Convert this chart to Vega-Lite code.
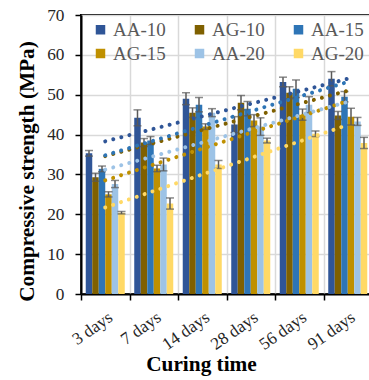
{
  "$schema": "https://vega.github.io/schema/vega-lite/v6.json",
  "width": 291,
  "height": 279,
  "autosize": {"type": "none"},
  "padding": {"left": 81, "top": 15, "right": 0, "bottom": 86},
  "background": "white",
  "config": {
    "font": "Liberation Serif",
    "view": {"stroke": "black", "strokeWidth": 2},
    "axisY": {
      "titleFont": "Liberation Serif", "titleFontSize": 21.3, "titleFontWeight": "bold", "titleColor": "black",
      "titleX": -48, "titleY": 156, "titleAngle": -90, "titleAlign": "center", "titleBaseline": "alphabetic",
      "labelFont": "Liberation Serif", "labelFontSize": 17.3, "labelColor": "#262626", "labelPadding": 11,
      "grid": true, "gridColor": "#D9D9D9", "gridWidth": 1.5,
      "domainColor": "black", "domainWidth": 2, "tickColor": "black", "tickWidth": 1.5, "tickSize": 6
    },
    "axisX": {
      "titleFont": "Liberation Serif", "titleFontSize": 21.3, "titleFontWeight": "bold", "titleColor": "black",
      "titleX": 120, "titleY": 76, "titleAlign": "center", "titleBaseline": "alphabetic",
      "labelAngle": -35, "labelAlign": "right", "labelBaseline": "top",
      "labelFont": "Liberation Serif", "labelFontSize": 17.3, "labelColor": "#262626", "labelPadding": 8,
      "tickBand": "extent", "grid": true, "gridColor": "#D9D9D9", "gridWidth": 1.5,
      "domainColor": "black", "domainWidth": 2, "tickColor": "black", "tickWidth": 1.5, "tickSize": 6
    }
  },
  "datasets": {
    "bars": [
      {"day": "3 days", "series": "AA-10", "value": 35.3, "err": 0.7},
      {"day": "3 days", "series": "AG-10", "value": 29.3, "err": 1.0},
      {"day": "3 days", "series": "AA-15", "value": 31.4, "err": 0.7},
      {"day": "3 days", "series": "AG-15", "value": 25.0, "err": 0.65},
      {"day": "3 days", "series": "AA-20", "value": 27.6, "err": 0.9},
      {"day": "3 days", "series": "AG-20", "value": 20.4, "err": 0.3},
      {"day": "7 days", "series": "AA-10", "value": 44.2, "err": 2.0},
      {"day": "7 days", "series": "AG-10", "value": 38.0, "err": 1.0},
      {"day": "7 days", "series": "AA-15", "value": 38.5, "err": 1.0},
      {"day": "7 days", "series": "AG-15", "value": 31.5, "err": 0.8},
      {"day": "7 days", "series": "AA-20", "value": 32.5, "err": 1.6},
      {"day": "7 days", "series": "AG-20", "value": 22.7, "err": 1.4},
      {"day": "14 days", "series": "AA-10", "value": 49.0, "err": 1.5},
      {"day": "14 days", "series": "AG-10", "value": 45.5, "err": 1.2},
      {"day": "14 days", "series": "AA-15", "value": 47.5, "err": 1.8},
      {"day": "14 days", "series": "AG-15", "value": 42.0, "err": 0.7},
      {"day": "14 days", "series": "AA-20", "value": 45.5, "err": 1.0},
      {"day": "14 days", "series": "AG-20", "value": 32.5, "err": 1.0},
      {"day": "28 days", "series": "AA-10", "value": 42.5, "err": 2.0},
      {"day": "28 days", "series": "AG-10", "value": 48.0, "err": 1.8},
      {"day": "28 days", "series": "AA-15", "value": 46.5, "err": 1.8},
      {"day": "28 days", "series": "AG-15", "value": 43.5, "err": 1.5},
      {"day": "28 days", "series": "AA-20", "value": 42.0, "err": 2.2},
      {"day": "28 days", "series": "AG-20", "value": 38.5, "err": 0.6},
      {"day": "56 days", "series": "AA-10", "value": 53.2, "err": 1.2},
      {"day": "56 days", "series": "AG-10", "value": 50.5, "err": 1.5},
      {"day": "56 days", "series": "AA-15", "value": 51.5, "err": 2.2},
      {"day": "56 days", "series": "AG-15", "value": 45.0, "err": 1.4},
      {"day": "56 days", "series": "AA-20", "value": 47.5, "err": 2.0},
      {"day": "56 days", "series": "AG-20", "value": 40.2, "err": 0.7},
      {"day": "91 days", "series": "AA-10", "value": 54.0, "err": 1.8},
      {"day": "91 days", "series": "AG-10", "value": 44.8, "err": 1.0},
      {"day": "91 days", "series": "AA-15", "value": 49.5, "err": 1.3},
      {"day": "91 days", "series": "AG-15", "value": 44.5, "err": 2.1},
      {"day": "91 days", "series": "AA-20", "value": 43.3, "err": 1.0},
      {"day": "91 days", "series": "AG-20", "value": 37.9, "err": 1.4}
    ],
    "trend": [
      {"day": "3 days", "series": "AA-10", "value": 38.3},
      {"day": "91 days", "series": "AA-10", "value": 54.0},
      {"day": "3 days", "series": "AG-10", "value": 34.6},
      {"day": "91 days", "series": "AG-10", "value": 51.0},
      {"day": "3 days", "series": "AA-15", "value": 34.8},
      {"day": "91 days", "series": "AA-15", "value": 53.2},
      {"day": "3 days", "series": "AG-15", "value": 28.5},
      {"day": "91 days", "series": "AG-15", "value": 48.4},
      {"day": "3 days", "series": "AA-20", "value": 31.2},
      {"day": "91 days", "series": "AA-20", "value": 48.2},
      {"day": "3 days", "series": "AG-20", "value": 21.7},
      {"day": "91 days", "series": "AG-20", "value": 42.4}
    ]
  },
  "layer": [
    {
      "data": {"name": "bars"},
      "mark": {"type": "bar"},
      "encoding": {
        "x": {
          "field": "day", "type": "nominal",
          "sort": ["3 days", "7 days", "14 days", "28 days", "56 days", "91 days"],
          "scale": {"paddingInner": 0, "paddingOuter": 0},
          "title": "Curing time"
        },
        "xOffset": {
          "field": "series", "type": "nominal",
          "sort": ["AA-10", "AG-10", "AA-15", "AG-15", "AA-20", "AG-20"],
          "scale": {"paddingInner": 0, "paddingOuter": 0.73}
        },
        "y": {
          "field": "value", "type": "quantitative",
          "scale": {"domain": [0, 70]},
          "title": "Compressive strength (MPa)",
          "axis": {"values": [0, 10, 20, 30, 40, 50, 60, 70]}
        },
        "color": {
          "field": "series", "type": "nominal",
          "sort": ["AA-10", "AG-10", "AA-15", "AG-15", "AA-20", "AG-20"],
          "scale": {
            "domain": ["AA-10", "AG-10", "AA-15", "AG-15", "AA-20", "AG-20"],
            "range": ["#2F5597", "#7F6000", "#2E75B6", "#BF9000", "#9DC3E6", "#FFD966"]
          },
          "legend": {
            "orient": "none", "legendX": 10, "legendY": 5, "columns": 3, "direction": "horizontal",
            "title": null, "padding": 0,
            "symbolType": "square", "symbolSize": 90, "symbolStrokeWidth": 0, "symbolOpacity": 1,
            "labelFont": "Liberation Serif", "labelFontSize": 19, "labelColor": "#595959", "labelOffset": 3,
            "columnPadding": 24, "rowPadding": 4
          }
        }
      }
    },
    {
      "data": {"name": "bars"},
      "mark": {"type": "errorbar", "color": "#595959", "ticks": {"size": 8, "color": "#595959", "thickness": 1.5}, "rule": {"color": "#595959", "strokeWidth": 1.5}},
      "encoding": {
        "x": {"field": "day", "type": "nominal", "sort": ["3 days", "7 days", "14 days", "28 days", "56 days", "91 days"], "title": "Curing time"},
        "xOffset": {"field": "series", "type": "nominal", "sort": ["AA-10", "AG-10", "AA-15", "AG-15", "AA-20", "AG-20"]},
        "y": {"field": "value", "type": "quantitative", "title": "Compressive strength (MPa)", "axis": {"values": [0, 10, 20, 30, 40, 50, 60, 70]}},
        "yError": {"field": "err"}
      }
    },
    {
      "data": {"name": "trend"},
      "mark": {"type": "line", "strokeDash": [0.01, 8.3], "strokeCap": "round", "strokeWidth": 4},
      "encoding": {
        "x": {"field": "day", "type": "nominal", "sort": ["3 days", "7 days", "14 days", "28 days", "56 days", "91 days"], "title": "Curing time"},
        "y": {"field": "value", "type": "quantitative", "title": "Compressive strength (MPa)", "axis": {"values": [0, 10, 20, 30, 40, 50, 60, 70]}},
        "color": {"field": "series", "type": "nominal", "legend": null}
      }
    }
  ]
}
